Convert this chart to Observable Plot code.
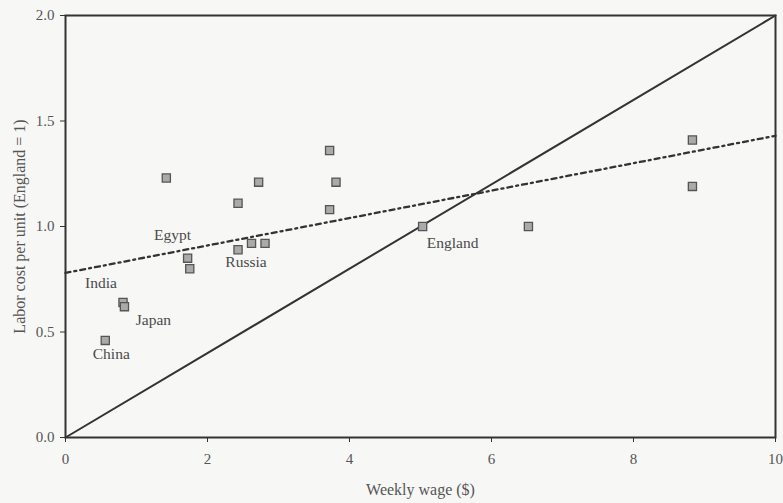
<!DOCTYPE html>
<html>
<head>
<meta charset="utf-8">
<script src="https://cdn.jsdelivr.net/npm/d3@7"></script>
<script src="https://cdn.jsdelivr.net/npm/@observablehq/plot@0.6"></script>
<style>
  html, body { margin: 0; padding: 0; background: #f7f7f5; }
  #chart svg { display: block; }
</style>
</head>
<body>
<div id="chart"></div>
<script>
// Weekly wage ($) and labor cost per unit (England = 1)
const wages = [1.42, 1.72, 1.75, 2.43, 2.43, 2.62, 2.81, 2.72, 3.72, 3.81, 3.72, 0.81, 0.83, 0.56, 5.03, 6.52, 8.83, 8.83];
const costs = [1.23, 0.85, 0.80, 1.11, 0.89, 0.92, 0.92, 1.21, 1.36, 1.21, 1.08, 0.64, 0.62, 0.46, 1.00, 1.00, 1.41, 1.19];
const names = ["", "Egypt", "", "", "Russia", "", "", "", "", "", "", "India", "Japan", "China", "England", "", "", ""];

// Reference lines
const diagX = [0, 10];
const diagY = [0, 2];
const trendX = [0, 10];
const trendY = [0.78, 1.43];

const xTicks = [0, 2, 4, 6, 8, 10];
const yTicks = [0, 0.5, 1.0, 1.5, 2.0];

const points = wages.map((w, i) => ({x: w, y: costs[i], name: names[i]}));
const diag = diagX.map((x, i) => ({x, y: diagY[i]}));
const trend = trendX.map((x, i) => ({x, y: trendY[i]}));

// label offsets (pixels) relative to their point
const offsets = {
  Egypt: [-15, -23], Russia: [8, 12], India: [-22, -19],
  Japan: [29, 13], China: [6, 14], England: [30, 17]
};
const labelMarks = points.filter(d => d.name).map(d =>
  Plot.text([d], {x: "x", y: "y", text: "name", dx: offsets[d.name][0], dy: offsets[d.name][1],
    fill: "#4a4a4a", fontSize: 15.5})
);

const chart = Plot.plot({
  width: 783,
  height: 503,
  marginLeft: 65,
  marginRight: 8,
  marginTop: 15,
  marginBottom: 66,
  style: {fontFamily: "'Liberation Serif', 'DejaVu Serif', serif", background: "transparent", color: "#555"},
  x: {domain: [0, 10]},
  y: {domain: [0, 2]},
  marks: [
    Plot.axisX({ticks: xTicks, tickFormat: d3.format("d"), tickSize: 5, tickPadding: 11, fontSize: 15,
      stroke: "#333", fill: "#555",
      label: "Weekly wage ($)", labelAnchor: "center", labelOffset: 57, labelArrow: "none"}),
    Plot.axisY({ticks: yTicks, tickFormat: d3.format(".1f"), tickSize: 5, tickPadding: 6, fontSize: 15,
      stroke: "#333", fill: "#555",
      label: "Labor cost per unit (England = 1)", labelAnchor: "center", labelOffset: 52, labelArrow: "none"}),
    Plot.frame({stroke: "#333", strokeWidth: 2}),
    Plot.line(diag, {x: "x", y: "y", stroke: "#333", strokeWidth: 2}),
    Plot.line(trend, {x: "x", y: "y", stroke: "#333", strokeWidth: 2.3, strokeDasharray: "5,4,2,4"}),
    Plot.dot(points, {x: "x", y: "y", symbol: "square", r: 4.6, fill: "#aaaaaa", stroke: "#555", strokeWidth: 1.3}),
    ...labelMarks
  ]
});
// enforce axis font sizes
d3.select(chart).selectAll('g[aria-label$="tick label"]').attr("font-size", 15)
  .selectAll("text").style("font-size", "15px");
d3.select(chart).selectAll('g[aria-label$="axis label"]').attr("font-size", 16)
  .selectAll("text").style("font-size", "16px");
document.getElementById("chart").appendChild(chart);
</script>
</body>
</html>
